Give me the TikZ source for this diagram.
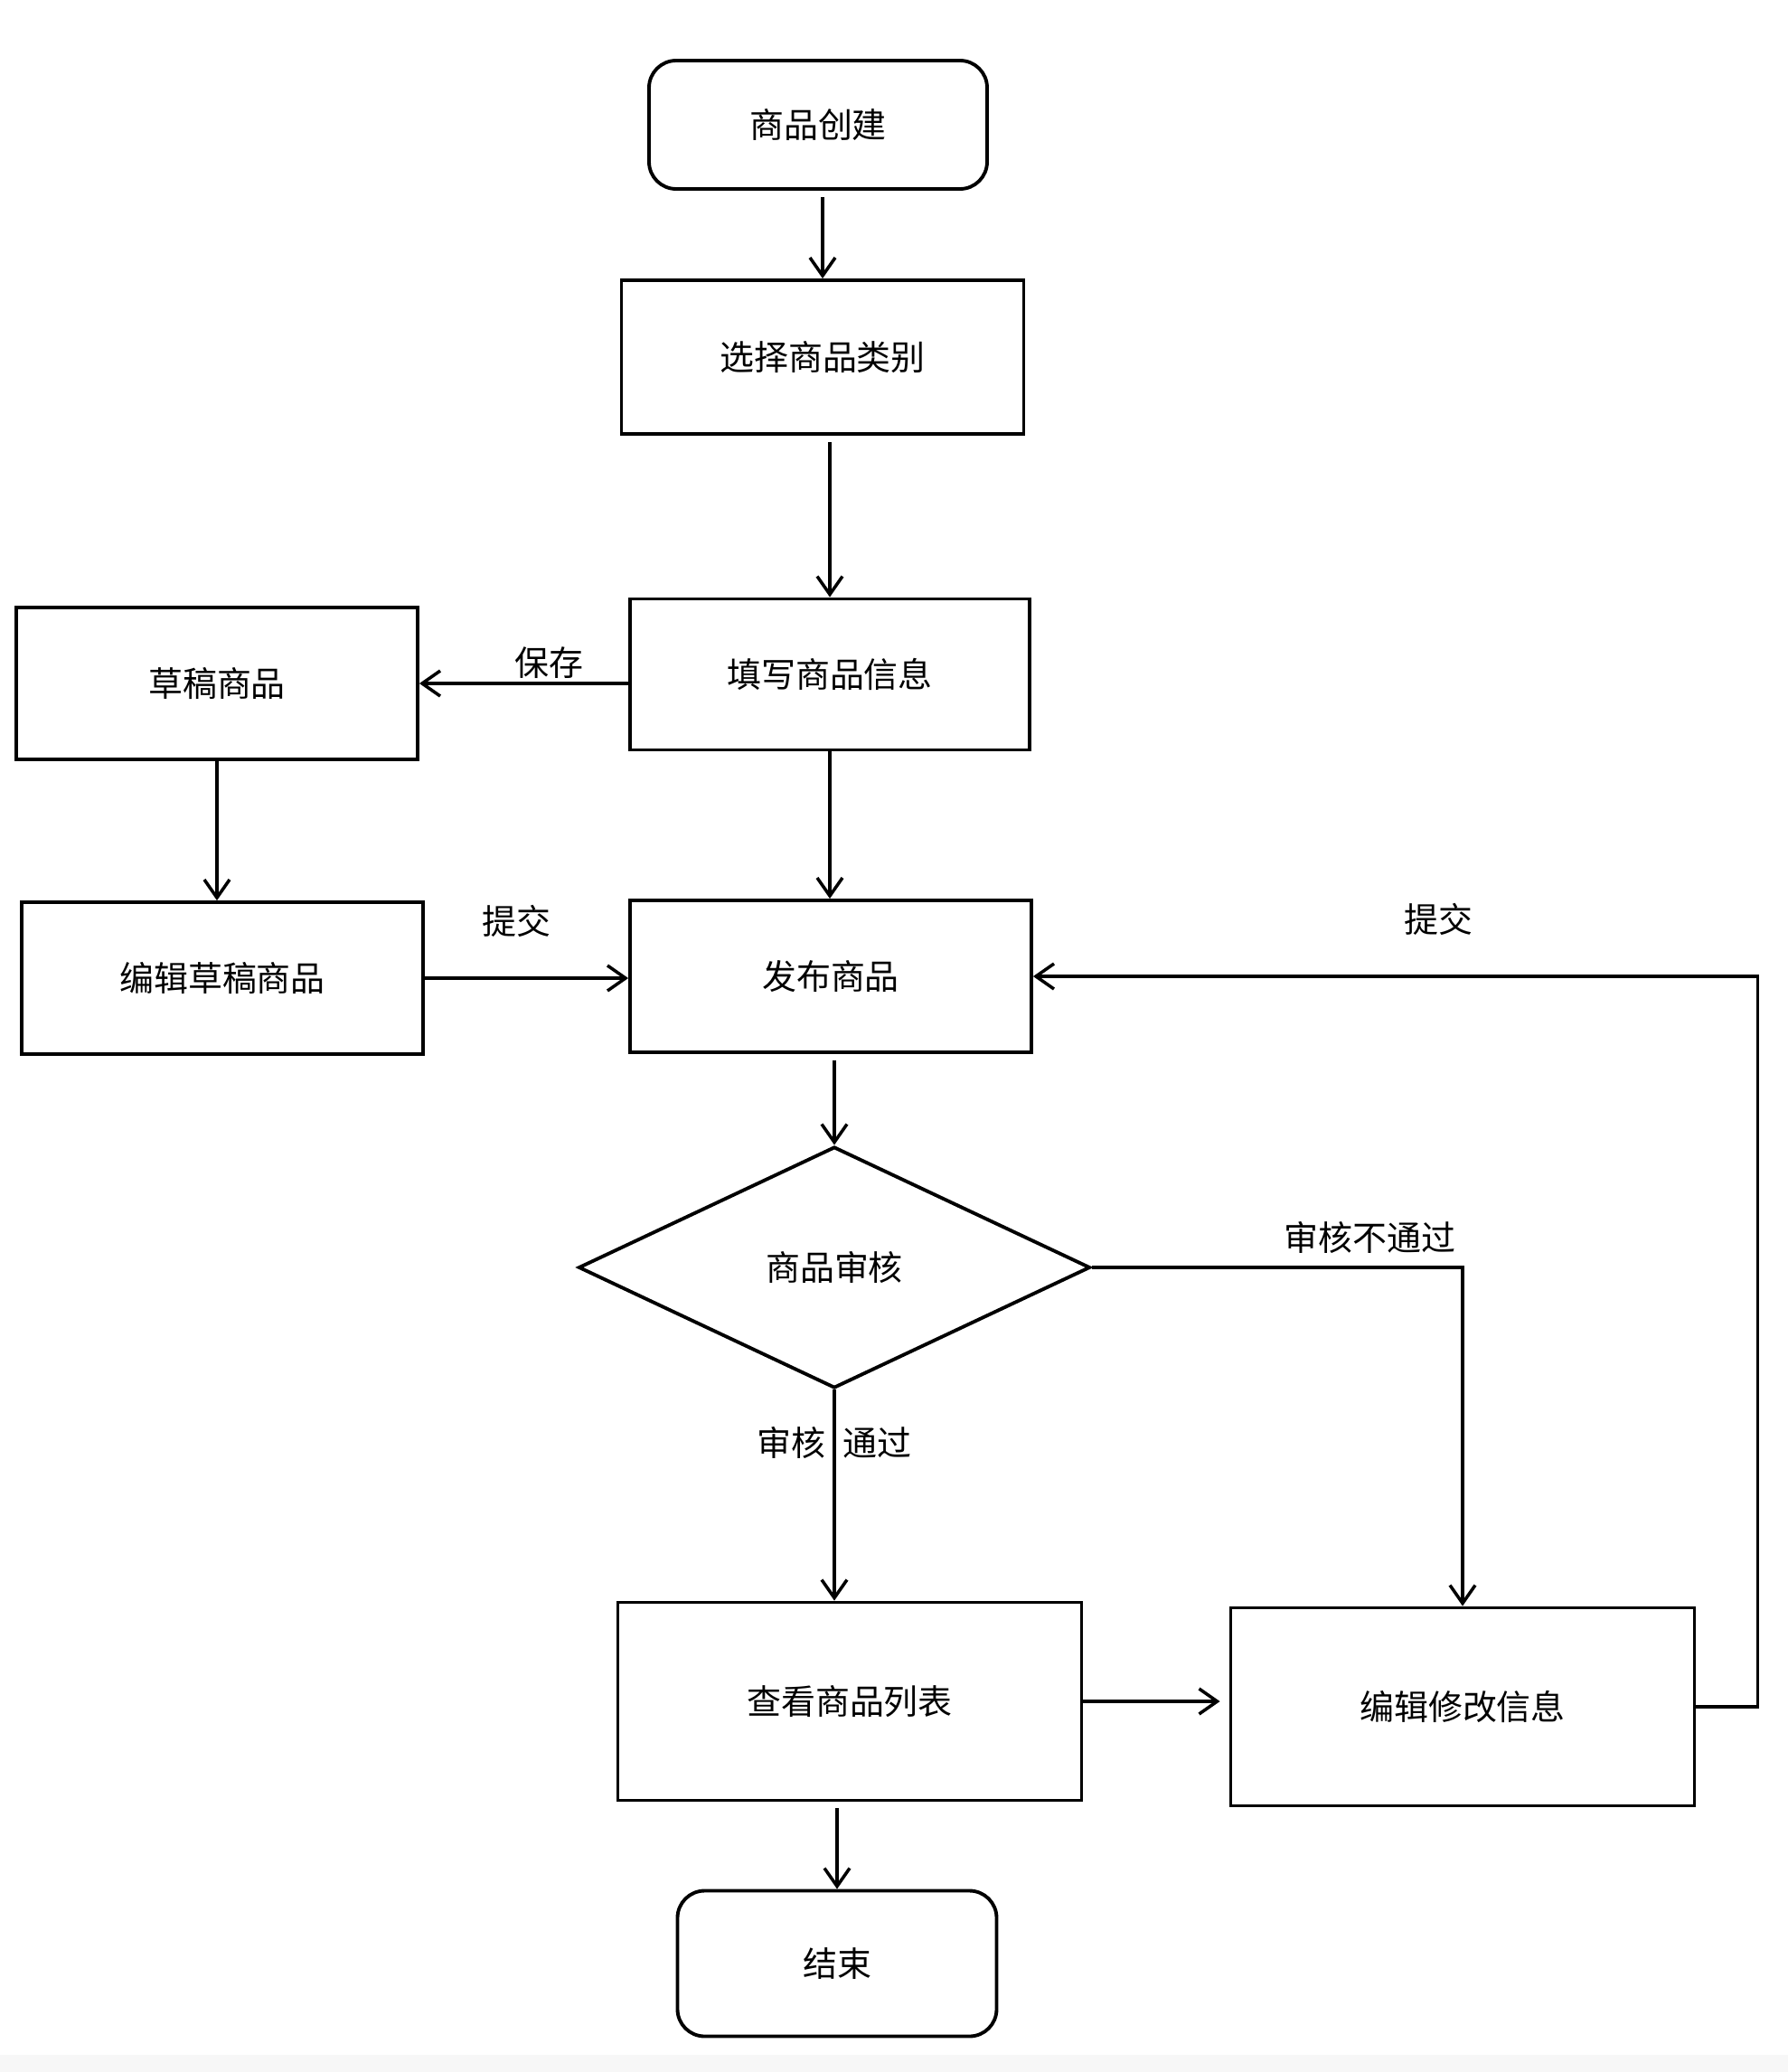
\documentclass[tikz,border=0pt]{standalone}
\usepackage{fontspec}
\setmainfont{Noto Sans CJK SC}
\usetikzlibrary{positioning,arrows.meta,shapes.geometric}
\tikzset{
  flowarrow/.style={-{Straight Barb[length=2mm,width=2.8mm]}, line width=1pt},
  procbox/.style={draw, line width=1.1pt, minimum width=4.44cm, minimum height=1.68cm, align=center},
  termbox/.style={draw, line width=1.1pt, rounded corners=0.3cm, align=center},
  decision/.style={draw, diamond, line width=1.1pt, aspect=2.12, inner sep=0pt, align=center},
  relabel/.style={inner sep=1pt}
}

\begin{document}
\begin{tikzpicture}[every node/.style={font=\fontsize{10.8}{13}\selectfont}]
  \fill[black!3] (0,-22.73) rectangle (19.78,-22.92);
  \useasboundingbox (0,0) rectangle (19.78,-22.92);
  \node[termbox, minimum width=3.74cm, minimum height=1.42cm] (start) at (9.05,-1.38) {商品创建};
  \node[procbox, minimum width=4.45cm, minimum height=1.70cm] (category) at (9.10,-3.95) {选择商品类别};
  \node[procbox, minimum width=4.42cm, minimum height=1.67cm] (fillin) at (9.18,-7.46) {填写商品信息};
  \node[procbox] (draft) at (2.40,-7.56) {草稿商品};
  \node[procbox] (editdraft) at (2.46,-10.82) {编辑草稿商品};
  \node[procbox] (publish) at (9.19,-10.80) {发布商品};
  \node[decision, minimum width=5.66cm, minimum height=2.67cm] (audit) at (9.23,-14.02) {商品审核};
  \node[procbox, minimum width=5.13cm, minimum height=2.19cm] (goodslist) at (9.40,-18.82) {查看商品列表};
  \node[procbox, minimum width=5.13cm, minimum height=2.19cm] (modify) at (16.18,-18.88) {编辑修改信息};
  \node[termbox, minimum width=3.53cm, minimum height=1.61cm] (finish) at (9.26,-21.72) {结束};

  \draw[flowarrow, shorten <=2pt] (start.south -| category) -- (category.north);
  \draw[flowarrow, shorten <=2pt] (category.south -| fillin) -- (fillin.north);
  \draw[flowarrow] (fillin.south) -- (fillin.south |- publish.north);
  \draw[flowarrow, shorten <=2pt] (publish.south -| audit) -- (audit.north);
  \draw[flowarrow] (audit.south) -- node[relabel, pos=0.25]{审核\hspace{0.5em}通过} (audit.south |- goodslist.north);
  \draw[flowarrow, shorten <=2pt] (goodslist.south -| finish) -- (finish.north);
  \draw[flowarrow] (fillin.west |- draft) -- node[relabel, pos=0.38, above]{保存} (draft.east);
  \draw[flowarrow] (draft.south) -- (draft.south |- editdraft.north);
  \draw[flowarrow] (editdraft.east) -- node[relabel, pos=0.45, above=4mm]{提交} (editdraft.east -| publish.west);
  \draw[flowarrow] (audit.east) -| node[relabel, pos=0.375, above=1mm]{审核不通过} (modify.north);
  \draw[flowarrow, shorten >=1mm] (goodslist.east) -- (goodslist.east -| modify.west);
  \draw[flowarrow] (modify.east) -- ++(0.68,0) |- node[relabel, pos=0.72, above=4mm]{提交} (publish.east);
\end{tikzpicture}
\end{document}
